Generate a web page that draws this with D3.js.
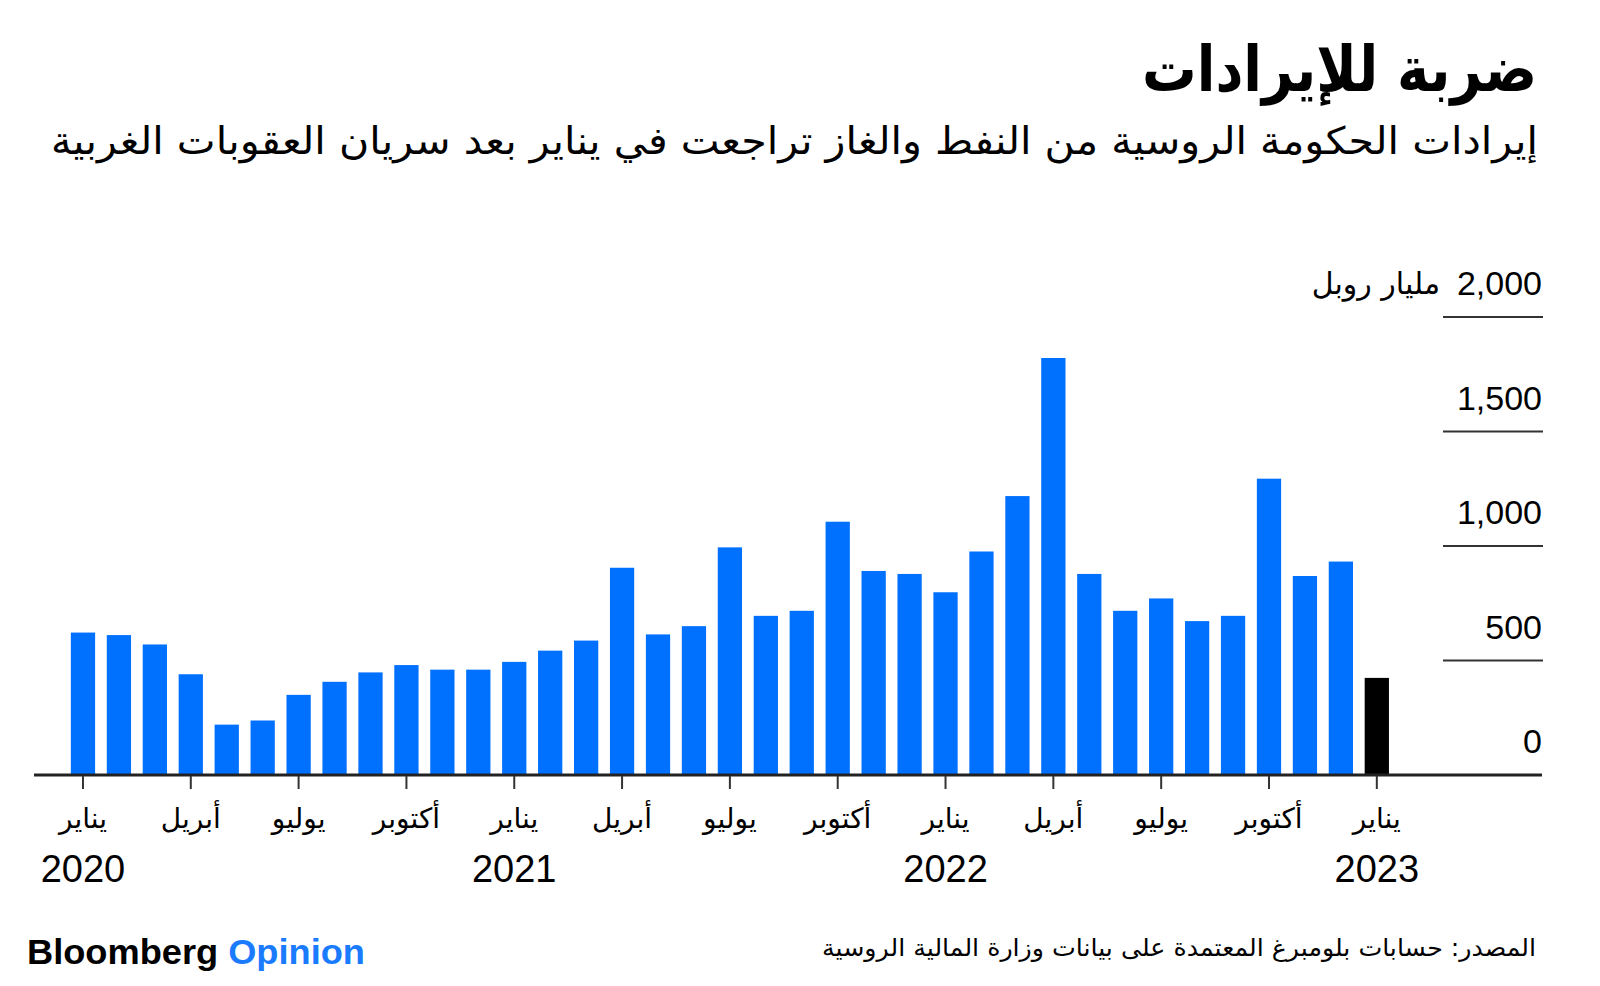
<!DOCTYPE html>
<meta charset="utf-8">
<style>
  body { margin: 0; background: #fff; }
  svg { display: block; }
  text { font-family: "Liberation Sans", "DejaVu Sans", sans-serif; fill: #000; }
  .ar { font-family: "DejaVu Sans", sans-serif; }
</style>
<script src="https://d3js.org/d3.v7.min.js"></script>
<svg width="1600" height="986"></svg>
<script>
const svg = d3.select('svg');

// data (billion roubles)
const months = [
  "2020-01","2020-02","2020-03","2020-04","2020-05","2020-06","2020-07","2020-08","2020-09","2020-10","2020-11","2020-12",
  "2021-01","2021-02","2021-03","2021-04","2021-05","2021-06","2021-07","2021-08","2021-09","2021-10","2021-11","2021-12",
  "2022-01","2022-02","2022-03","2022-04","2022-05","2022-06","2022-07","2022-08","2022-09","2022-10","2022-11","2022-12",
  "2023-01"
];
const revenue = [
  622, 611, 570, 440, 220, 238, 350, 407, 448, 480, 460, 460,
  494, 543, 587, 905, 614, 650, 994, 695, 717, 1106, 891, 878,
  798, 976, 1218, 1821, 878, 717, 771, 672, 695, 1294, 869, 932,
  424
];
const monthNames = { "01": "يناير", "04": "أبريل", "07": "يوليو", "10": "أكتوبر" };
const yTicks = [0, 500, 1000, 1500, 2000];

const title = "ضربة للإيرادات";
const subtitle = "إيرادات الحكومة الروسية من النفط والغاز تراجعت في يناير بعد سريان العقوبات الغربية";
const unit = "مليار روبل";
const source = "المصدر: حسابات بلومبرغ المعتمدة على بيانات وزارة المالية الروسية";

const blue = "#0070ff";

const x = d3.scaleBand()
  .domain(months)
  .range([65, 65 + 37 * 35.94])
  .paddingInner(0.325)
  .paddingOuter(0.1625);

const y = d3.scaleLinear()
  .domain([0, 2000])
  .range([775, 317]);

// title block
svg.append('text').attr('class', 'ar')
  .attr('x', 1537).attr('y', 91)
  .attr('text-anchor', 'end')
  .attr('textLength', 395).attr('lengthAdjust', 'spacingAndGlyphs')
  .style('font-size', '63px').style('font-weight', 'bold')
  .text(title);

svg.append('text').attr('class', 'ar')
  .attr('x', 1538).attr('y', 154)
  .attr('text-anchor', 'end')
  .attr('textLength', 1487).attr('lengthAdjust', 'spacingAndGlyphs')
  .style('font-size', '38px')
  .text(subtitle);

// y gridlines + labels
const gx0 = 1443, gx1 = 1543;
yTicks.filter(d => d > 0).forEach(d => {
  svg.append('line')
    .attr('x1', gx0).attr('x2', gx1)
    .attr('y1', y(d)).attr('y2', y(d))
    .attr('stroke', '#333').attr('stroke-width', 2);
});
yTicks.forEach(d => {
  svg.append('text')
    .attr('x', 1542).attr('y', y(d) - 22)
    .attr('text-anchor', 'end')
    .style('font-size', '34px')
    .text(d3.format(',')(d));
});
svg.append('text').attr('class', 'ar')
  .attr('x', 1440).attr('y', y(2000) - 23)
  .attr('text-anchor', 'end')
  .style('font-size', '30px')
  .text(unit);

// bars
svg.append('g').selectAll('rect')
  .data(months)
  .join('rect')
  .attr('x', d => x(d))
  .attr('width', x.bandwidth())
  .attr('y', (d, i) => y(revenue[i]))
  .attr('height', (d, i) => y(0) - y(revenue[i]))
  .attr('fill', (d, i) => i === months.length - 1 ? '#000' : blue);

// baseline
svg.append('line')
  .attr('x1', 34).attr('x2', 1542)
  .attr('y1', y(0)).attr('y2', y(0))
  .attr('stroke', '#222').attr('stroke-width', 3);

// x ticks and labels
const tickMonths = months.filter(m => monthNames[m.slice(5)]);
const cx = m => x(m) + x.bandwidth() / 2;
tickMonths.forEach(m => {
  svg.append('line')
    .attr('x1', cx(m)).attr('x2', cx(m))
    .attr('y1', y(0) + 1).attr('y2', y(0) + 14)
    .attr('stroke', '#333').attr('stroke-width', 2);
  svg.append('text').attr('class', 'ar')
    .attr('x', cx(m)).attr('y', 828)
    .attr('text-anchor', 'middle')
    .style('font-size', '28px')
    .text(monthNames[m.slice(5)]);
  if (m.slice(5) === "01") {
    svg.append('text')
      .attr('x', cx(m)).attr('y', 882)
      .attr('text-anchor', 'middle')
      .style('font-size', '38px')
      .text(m.slice(0, 4));
  }
});

// footer
const brand = svg.append('text')
  .attr('x', 27).attr('y', 964)
  .attr('textLength', 338).attr('lengthAdjust', 'spacingAndGlyphs')
  .style('font-size', '35px').style('font-weight', 'bold');
brand.append('tspan').text('Bloomberg ');
brand.append('tspan').style('fill', '#1a7bff').text('Opinion');

svg.append('text').attr('class', 'ar')
  .attr('x', 1536).attr('y', 956)
  .attr('text-anchor', 'end')
  .attr('textLength', 714).attr('lengthAdjust', 'spacingAndGlyphs')
  .style('font-size', '24px')
  .text(source);
</script>
